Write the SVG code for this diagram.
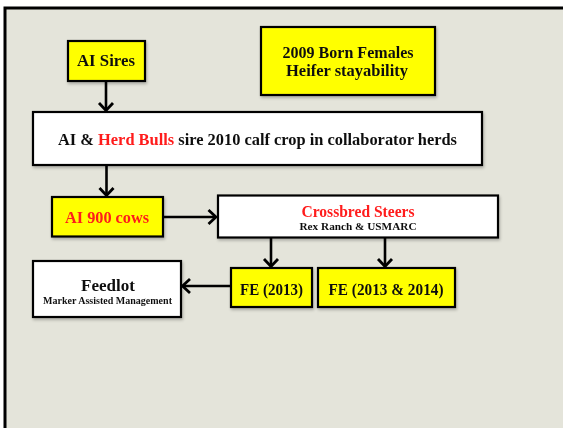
<svg xmlns="http://www.w3.org/2000/svg" width="563" height="428" viewBox="0 0 563 428">
  <style>
    .box { stroke: #000; stroke-width: 2.2; }
    .yellow { fill: #ffff00; }
    .white { fill: #ffffff; }
    .t { font-family: "Liberation Serif", "Times New Roman", serif; font-weight: bold; fill: #111; text-anchor: middle; }
    .red { fill: #ff1a1a; }
    .conn { stroke: #000; stroke-width: 2.6; fill: none; marker-end: url(#chev); }
  </style>
  <defs>
    <marker id="chev" markerUnits="userSpaceOnUse" viewBox="-10 -9 12 18" refX="0" refY="0" markerWidth="12" markerHeight="18" orient="auto">
      <path d="M-7.5,-7 L0,0 L-7.5,7" fill="none" stroke="#000" stroke-width="2.8" stroke-linejoin="miter"/>
    </marker>
    <filter id="shadow" x="-10%" y="-10%" width="130%" height="140%">
      <feGaussianBlur in="SourceAlpha" stdDeviation="1.5"/>
      <feOffset dx="1" dy="2" result="b"/>
      <feComponentTransfer><feFuncA type="linear" slope="0.25"/></feComponentTransfer>
      <feMerge><feMergeNode/><feMergeNode in="SourceGraphic"/></feMerge>
    </filter>
  </defs>

  <!-- page and slide frame -->
  <rect x="0" y="0" width="563" height="428" fill="#ffffff"/>
  <rect x="5" y="8" width="570" height="430" fill="#e4e4da" stroke="#000" stroke-width="3"/>

  <!-- connectors -->
  <g id="connectors">
    <line class="conn" x1="106" y1="81" x2="106" y2="110.5"/>
    <line class="conn" x1="106.5" y1="165" x2="106.5" y2="195.5"/>
    <line class="conn" x1="163" y1="217" x2="216" y2="217"/>
    <line class="conn" x1="271" y1="238" x2="271" y2="266.5"/>
    <line class="conn" x1="385" y1="238" x2="385" y2="266.5"/>
    <line class="conn" x1="231" y1="286" x2="182.5" y2="286"/>
  </g>

  <g id="ai-sires" filter="url(#shadow)">
    <rect class="box yellow" x="68" y="41" width="77" height="40"/>
    <text class="t" x="106" y="66" font-size="16.5" textLength="58" lengthAdjust="spacingAndGlyphs">AI Sires</text>
  </g>

  <g id="born-females" filter="url(#shadow)">
    <rect class="box yellow" x="261" y="27" width="174" height="68"/>
    <text class="t" x="348" y="57.5" font-size="16.5" textLength="131" lengthAdjust="spacingAndGlyphs">2009 Born Females</text>
    <text class="t" x="347" y="75.5" font-size="16.5" textLength="122" lengthAdjust="spacingAndGlyphs">Heifer stayability</text>
  </g>

  <g id="calf-crop" filter="url(#shadow)">
    <rect class="box white" x="33" y="112" width="449" height="53"/>
    <text class="t" x="257.5" y="145" font-size="16.5" textLength="399" lengthAdjust="spacingAndGlyphs">AI &amp; <tspan class="red">Herd Bulls</tspan> sire 2010 calf crop in collaborator herds</text>
  </g>

  <g id="ai-cows" filter="url(#shadow)">
    <rect class="box yellow" x="52" y="197" width="111" height="39.5"/>
    <text class="t red" x="107" y="223" font-size="16.5" textLength="84" lengthAdjust="spacingAndGlyphs">AI 900 cows</text>
  </g>

  <g id="crossbred-steers" filter="url(#shadow)">
    <rect class="box white" x="218" y="195.5" width="280" height="42"/>
    <text class="t red" x="358" y="216.5" font-size="16.5" textLength="113" lengthAdjust="spacingAndGlyphs">Crossbred Steers</text>
    <text class="t" x="358" y="230" font-size="11" textLength="117" lengthAdjust="spacingAndGlyphs">Rex Ranch  &amp; USMARC</text>
  </g>

  <g id="fe-2013" filter="url(#shadow)">
    <rect class="box yellow" x="231" y="268" width="81" height="39"/>
    <text class="t" x="271.5" y="294.5" font-size="16.5" textLength="63" lengthAdjust="spacingAndGlyphs">FE (2013)</text>
  </g>

  <g id="fe-2013-2014" filter="url(#shadow)">
    <rect class="box yellow" x="318" y="268" width="137" height="39"/>
    <text class="t" x="386" y="294.5" font-size="16.5" textLength="115" lengthAdjust="spacingAndGlyphs">FE (2013 &amp; 2014)</text>
  </g>

  <g id="feedlot" filter="url(#shadow)">
    <rect class="box white" x="33" y="261" width="148" height="56"/>
    <text class="t" x="108" y="290.5" font-size="16.5" textLength="54" lengthAdjust="spacingAndGlyphs">Feedlot</text>
    <text class="t" x="107.5" y="303.5" font-size="9.5" textLength="129" lengthAdjust="spacingAndGlyphs">Marker Assisted Management</text>
  </g>
</svg>
